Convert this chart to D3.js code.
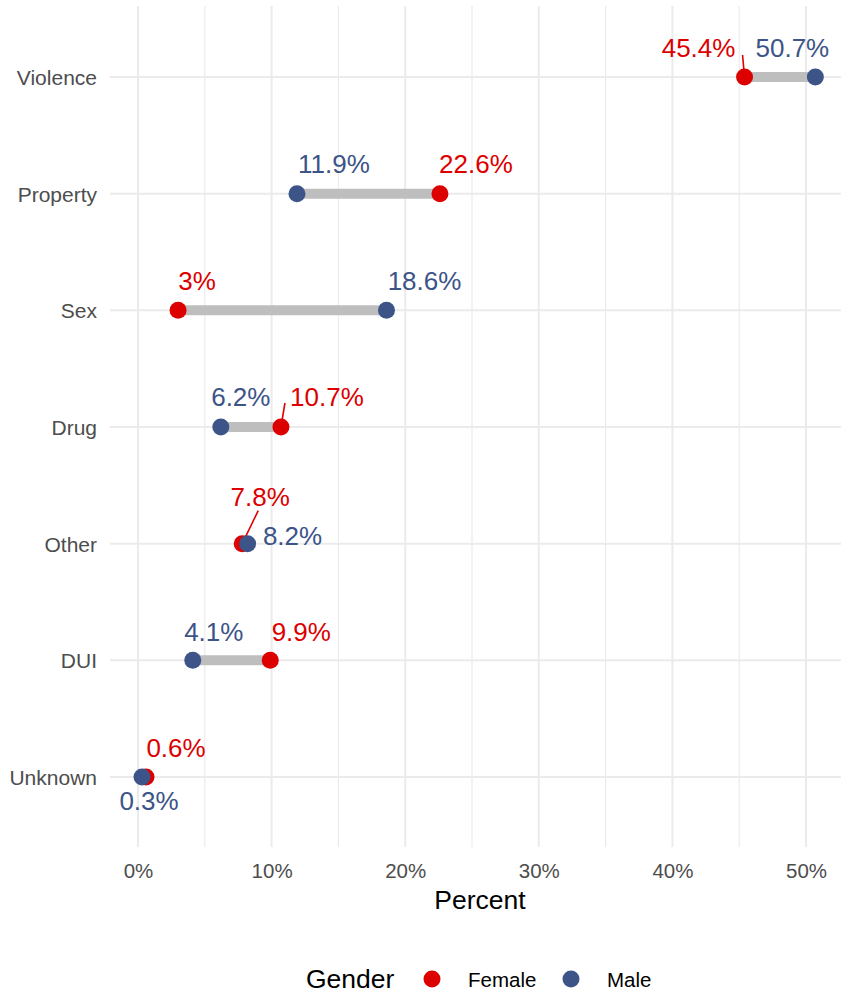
<!DOCTYPE html>
<html>
<head>
<meta charset="utf-8">
<script src="https://cdn.jsdelivr.net/npm/d3@7/dist/d3.min.js"></script>
<style>
  html, body { margin: 0; padding: 0; background: #fff; }
  svg { display: block; font-family: Arial, "Liberation Sans", sans-serif; }
</style>
</head>
<body>
<svg id="chart" width="841" height="994"></svg>
<script>
// ---- data ----
const categories = ["Violence", "Property", "Sex", "Drug", "Other", "DUI", "Unknown"];
const femaleValues = [45.4, 22.6, 3.0, 10.7, 7.8, 9.9, 0.6];
const maleValues   = [50.7, 11.9, 18.6, 6.2, 8.2, 4.1, 0.3];
const femaleLabels = ["45.4%", "22.6%", "3%", "10.7%", "7.8%", "9.9%", "0.6%"];
const maleLabels   = ["50.7%", "11.9%", "18.6%", "6.2%", "8.2%", "4.1%", "0.3%"];
const xTicks = [0, 10, 20, 30, 40, 50];
const xTickLabels = ["0%", "10%", "20%", "30%", "40%", "50%"];
const xMinorTicks = [5, 15, 25, 35, 45];
const genders = ["Female", "Male"];

// ---- label layout (repel-style offsets in px, relative to each point) ----
const femaleLabelOffset = [[-46, -20], [36, -21], [19, -20], [46, -21], [18, -38], [31, -19], [30, -20]];
const maleLabelOffset   = [[-23, -20], [37, -21], [38, -20], [20, -21], [45, 1], [21, -19], [7, 33]];
// leader lines for labels that were pushed away: [index, lineEndDx, lineEndDy]
const femaleLeaders = [[0, -2, -22], [3, 4, -24], [4, 16, -33]];

// ---- styles ----
const RED = "#DC0000", BLUE = "#3C5488", SEG = "#BEBEBE", GRID = "#EBEBEB", AXIS_TXT = "#4D4D4D";

const svg = d3.select("#chart");
const x = d3.scaleLinear().domain([0, 50]).range([138, 806]);
const y = d3.scalePoint().domain(categories).range([77, 777]);
const panel = { left: 110, right: 841, top: 6, bottom: 847 };

// grid
const g = svg.append("g");
g.selectAll(".minor").data(xMinorTicks).join("line")
  .attr("x1", d => x(d)).attr("x2", d => x(d))
  .attr("y1", panel.top).attr("y2", panel.bottom)
  .attr("stroke", GRID).attr("stroke-width", 1.2);
g.selectAll(".major").data(xTicks).join("line")
  .attr("x1", d => x(d)).attr("x2", d => x(d))
  .attr("y1", panel.top).attr("y2", panel.bottom)
  .attr("stroke", GRID).attr("stroke-width", 2);
g.selectAll(".hmajor").data(categories).join("line")
  .attr("x1", panel.left).attr("x2", panel.right)
  .attr("y1", d => y(d)).attr("y2", d => y(d))
  .attr("stroke", GRID).attr("stroke-width", 2);

// x axis via d3 axis
const xAxis = d3.axisBottom(x).tickValues(xTicks).tickFormat((d, i) => xTickLabels[i]).tickSize(0).tickPadding(0);
const xa = svg.append("g").attr("transform", "translate(0,878)").call(xAxis);
xa.select(".domain").remove();
xa.selectAll("text").attr("fill", AXIS_TXT).attr("font-size", "20.5px").attr("dy", 0)
  .attr("font-family", "Arial, 'Liberation Sans', sans-serif");

// y axis
const yAxis = d3.axisLeft(y).tickSize(0).tickPadding(0);
const ya = svg.append("g").attr("transform", "translate(97,0)").call(yAxis);
ya.select(".domain").remove();
ya.selectAll("text").attr("fill", AXIS_TXT).attr("font-size", "21px").attr("dy", "0.36em")
  .attr("font-family", "Arial, 'Liberation Sans', sans-serif");

// axis title
svg.append("text").attr("x", 480).attr("y", 909).attr("text-anchor", "middle")
  .attr("font-size", "26.5px").attr("fill", "#000").text("Percent");

// segments
const rows = categories.map((c, i) => ({ c, i, f: femaleValues[i], m: maleValues[i] }));
svg.append("g").selectAll("line").data(rows).join("line")
  .attr("x1", d => x(Math.min(d.f, d.m))).attr("x2", d => x(Math.max(d.f, d.m)))
  .attr("y1", d => y(d.c)).attr("y2", d => y(d.c))
  .attr("stroke", SEG).attr("stroke-width", 10);

// leader lines
svg.append("g").selectAll("line").data(femaleLeaders).join("line")
  .attr("x1", d => x(femaleValues[d[0]])).attr("y1", d => y(categories[d[0]]))
  .attr("x2", d => x(femaleValues[d[0]]) + d[1]).attr("y2", d => y(categories[d[0]]) + d[2])
  .attr("stroke", RED).attr("stroke-width", 1.6);

// points: female then male on top
svg.append("g").selectAll("circle").data(rows).join("circle")
  .attr("cx", d => x(d.f)).attr("cy", d => y(d.c)).attr("r", 8.5).attr("fill", RED);
svg.append("g").selectAll("circle").data(rows).join("circle")
  .attr("cx", d => x(d.m)).attr("cy", d => y(d.c)).attr("r", 8.5).attr("fill", BLUE);

// labels
svg.append("g").selectAll("text").data(rows).join("text")
  .attr("x", d => x(d.f) + femaleLabelOffset[d.i][0])
  .attr("y", d => y(d.c) + femaleLabelOffset[d.i][1])
  .attr("text-anchor", "middle").attr("font-size", "26px").attr("fill", RED)
  .text(d => femaleLabels[d.i]);
svg.append("g").selectAll("text").data(rows).join("text")
  .attr("x", d => x(d.m) + maleLabelOffset[d.i][0])
  .attr("y", d => y(d.c) + maleLabelOffset[d.i][1])
  .attr("text-anchor", "middle").attr("font-size", "26px").attr("fill", BLUE)
  .text(d => maleLabels[d.i]);

// legend
const color = d3.scaleOrdinal().domain(genders).range([RED, BLUE]);
const leg = svg.append("g");
leg.append("text").attr("x", 306).attr("y", 988).attr("font-size", "26.5px").attr("fill", "#000").text("Gender");
const legX = [432, 571];
const legItems = leg.selectAll("g.item").data(genders).join("g")
  .attr("transform", (d, i) => `translate(${legX[i]},979)`);
legItems.append("circle").attr("r", 8.5).attr("fill", d => color(d));
legItems.append("text").attr("x", 36).attr("y", 8).attr("font-size", "20.5px").attr("fill", "#000").text(d => d);
</script>
</body>
</html>
